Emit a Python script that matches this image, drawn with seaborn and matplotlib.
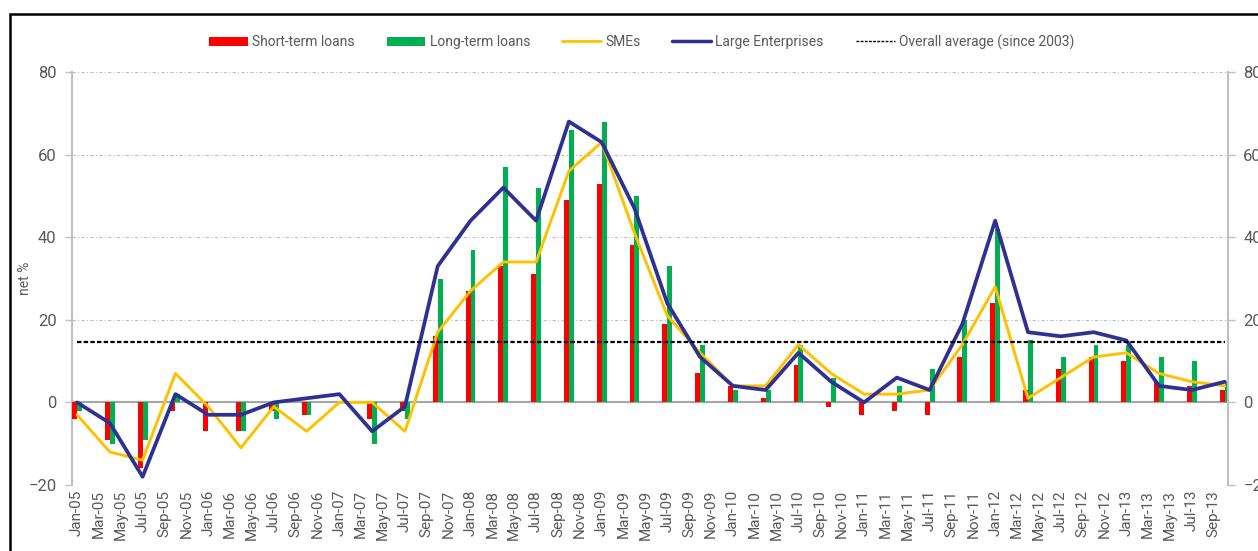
import numpy as np
import pandas as pd
import matplotlib
matplotlib.use("Agg")
import matplotlib.pyplot as plt
from matplotlib.patches import Patch, Rectangle
from matplotlib.lines import Line2D
import seaborn as sns

# quarterly observations, positioned in months since Jan-05
months = list(range(0, 106, 3))

short_term = [-4, -9, -16, -2, -7, -7, -2, -3, 0, -4, -2,
              16, 27, 33, 31, 49, 53, 38, 19, 7, 4, 1, 9,
              -1, -3, -2, -3, 11, 24, 3, 8, 11, 10, 5, 4, 3]
long_term = [-2, -10, -9, 2, 0, -7, -4, -3, 0, -10, -4,
             30, 37, 57, 52, 66, 68, 50, 33, 14, 3, 3, 14,
             6, 0, 4, 8, 20, 42, 15, 11, 14, 14, 11, 10, 5]
smes = [-3, -12, -14, 7, -1, -11, -1, -7, 0, 0, -7,
        17, 27, 34, 34, 56, 63, 41, 21, 12, 4, 4, 14,
        7, 2, 2, 3, 14, 28, 1, 6, 11, 12, 7, 5, 4]
large = [0, -5, -18, 2, -3, -3, 0, 1, 2, -7, -1,
         33, 44, 52, 44, 68, 63, 47, 24, 11, 4, 3, 12,
         5, 0, 6, 3, 19, 44, 17, 16, 17, 15, 4, 3, 5]
overall_avg = 14.7

# bimonthly tick labels Jan-05 ... Sep-13
mon_names = ['Jan', 'Mar', 'May', 'Jul', 'Sep', 'Nov']
years = ['05', '06', '07', '08', '09', '10', '11', '12', '13']
tick_labels = [f'{m}-{y}' for y in years for m in mon_names][:53]
tick_pos = list(range(0, 106, 2))[:53]

RED = '#FF0000'
GREEN = '#00B050'
ORANGE = '#FFC000'
BLUE = '#2E3192'
GRAY = '#595959'
LGRAY = '#BFBFBF'

sns.set_style("white")
plt.rcParams['font.family'] = ['Roboto', 'DejaVu Sans']

bars = pd.DataFrame({
    'month': months + months,
    'value': short_term + long_term,
    'type': ['Short-term loans'] * len(months) + ['Long-term loans'] * len(months),
})

fig = plt.figure(figsize=(12.58, 5.51), dpi=100)
ax = fig.add_axes([72 / 1258, 1 - 485 / 551, (1228 - 72) / 1258, (485 - 72) / 551])

sns.barplot(data=bars, x='month', y='value', hue='type',
            palette={'Short-term loans': RED, 'Long-term loans': GREEN},
            native_scale=True, width=0.3, errorbar=None, saturation=1,
            linewidth=0, legend=False, ax=ax, zorder=3)
sns.lineplot(x=months, y=smes, color=ORANGE, linewidth=2.1, ax=ax, zorder=4)
sns.lineplot(x=months, y=large, color=BLUE, linewidth=2.7, ax=ax, zorder=5)
ax.hlines(overall_avg, months[0], months[-1], colors='black',
          linestyles=(0, (2, 1)), linewidth=1.6, zorder=6)

ax.set_xlim(-0.46, 105.3)
ax.set_ylim(-20, 80)
ax.set_yticks([-20, 0, 20, 40, 60, 80])
ax.set_xticks(tick_pos)
ax.set_xticklabels(tick_labels)
ax.set_xlabel('')
ax.set_ylabel('net %', color=GRAY, fontsize=10)
ax.yaxis.set_label_coords(-0.035, 0.5)

ax.yaxis.grid(True, linestyle=(0, (3, 2, 1, 2)), color=LGRAY, linewidth=0.8)
ax.xaxis.grid(False)
ax.set_axisbelow(True)

for s in ['top', 'right']:
    ax.spines[s].set_visible(False)
ax.spines['bottom'].set_position(('data', 0))
ax.spines['bottom'].set_color('#A6A6A6')
ax.spines['bottom'].set_linewidth(1.5)
ax.spines['bottom'].set_zorder(2)
ax.spines['left'].set_color(LGRAY)
ax.spines['left'].set_linewidth(1.5)

ax.tick_params(axis='x', direction='out', length=4, width=1, color=LGRAY,
               pad=59, labelrotation=90, labelsize=11, labelcolor=GRAY)
ax.tick_params(axis='y', direction='out', length=5, width=1, color=LGRAY,
               pad=6, labelsize=12, labelcolor=GRAY, left=True)

ax2 = ax.twinx()
ax2.set_ylim(-20, 80)
ax2.set_yticks([-20, 0, 20, 40, 60, 80])
for s in ['top', 'left', 'bottom']:
    ax2.spines[s].set_visible(False)
ax2.spines['right'].set_color(LGRAY)
ax2.spines['right'].set_linewidth(1.5)
ax2.tick_params(axis='y', direction='out', length=5, width=1, color=LGRAY,
                pad=6, labelsize=12, labelcolor=GRAY, right=True)

handles = [
    Patch(facecolor=RED, edgecolor='none'),
    Patch(facecolor=GREEN, edgecolor='none'),
    Line2D([], [], color=ORANGE, linewidth=2),
    Line2D([], [], color=BLUE, linewidth=2.5),
    Line2D([], [], color='black', linewidth=1, linestyle=(0, (2, 1))),
]
labels = ['Short-term loans', 'Long-term loans', 'SMEs', 'Large Enterprises',
          'Overall average (since 2003)']
fig.legend(handles, labels, loc='center', bbox_to_anchor=(0.51, 1 - 42 / 551),
           ncol=5, frameon=False, handlelength=2.8, handletextpad=0.3,
           columnspacing=2.3, fontsize=10, labelcolor=GRAY)

# outer frame that runs off the right and bottom edges
fig.patches.append(Rectangle((10 / 1258, -0.2), 1.5, 1.2 - 14 / 551,
                             transform=fig.transFigure, fill=False,
                             edgecolor='black', linewidth=1.8))

fig.savefig('out.png', dpi=100)
